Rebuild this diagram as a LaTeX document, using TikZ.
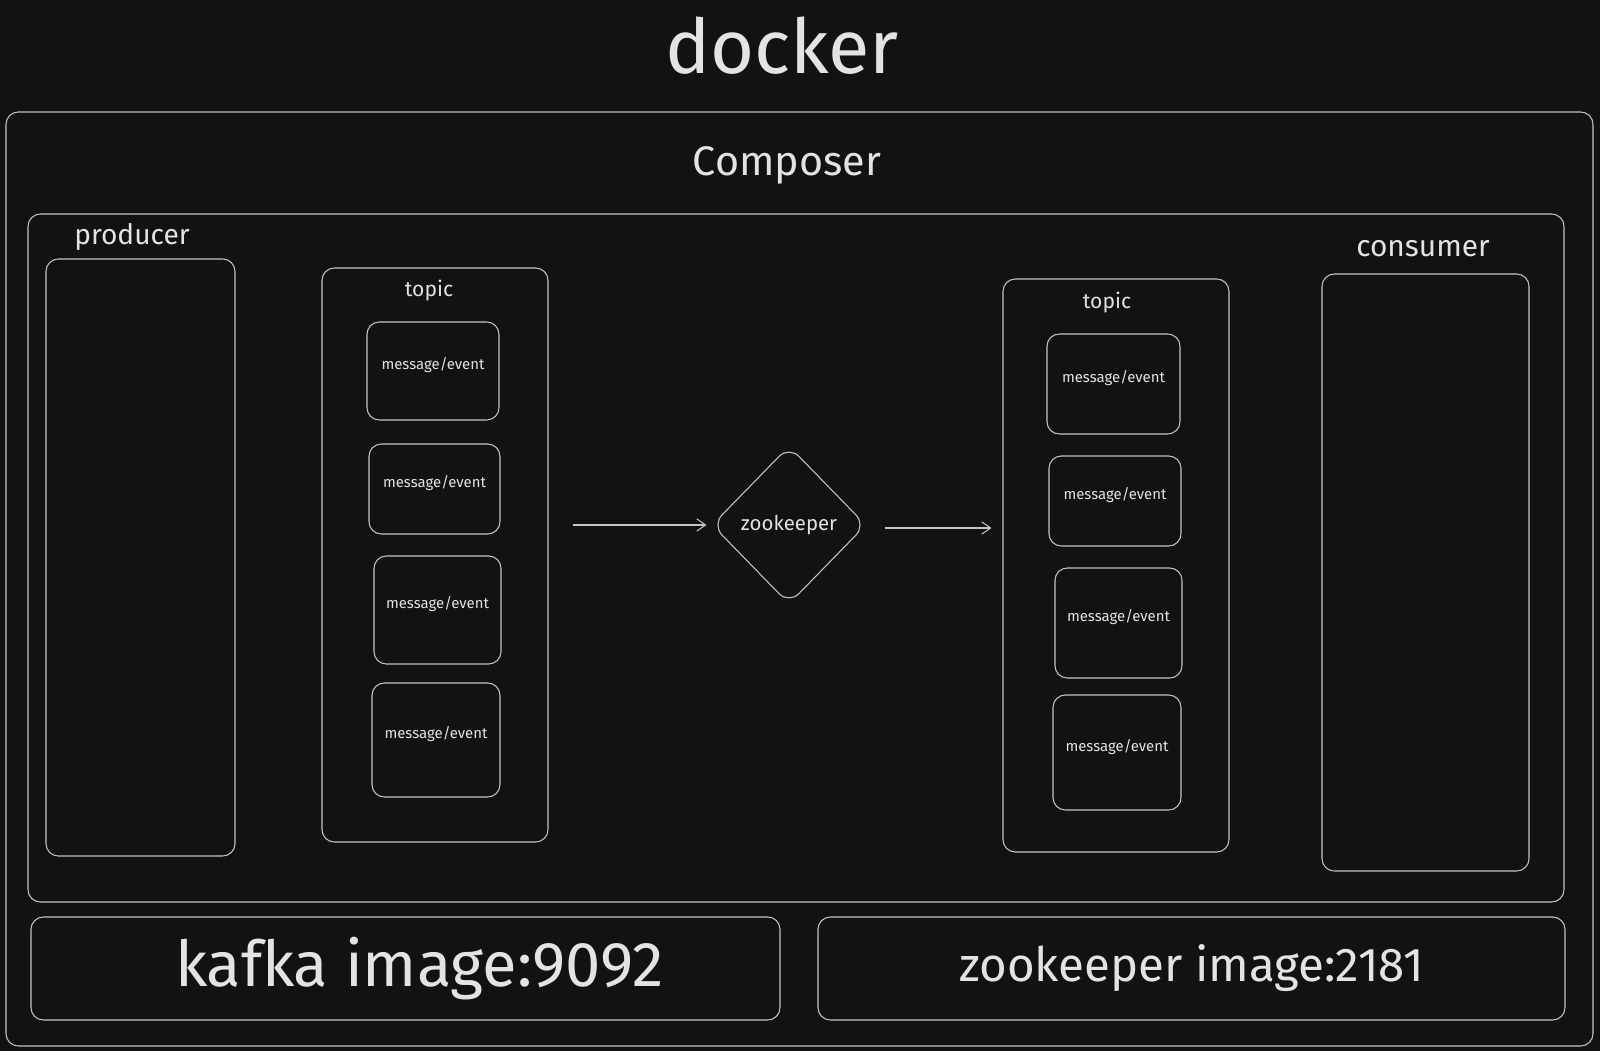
\documentclass[tikz,border=0pt]{standalone}
\usepackage{fontspec}
\setmainfont{Fira Sans}
\usetikzlibrary{arrows.meta, shapes.geometric, positioning}
\definecolor{bgdark}{HTML}{121212}
\definecolor{linegray}{HTML}{C4C4C4}
\definecolor{inkgray}{HTML}{E3E3E3}
\tikzset{
    sketchbox/.style={draw=linegray, line width=0.6pt, rounded corners=7pt, inner sep=0pt},
    msgbox/.style={sketchbox, text=inkgray, text depth=0.3cm, font=\fontsize{8.5}{10}\selectfont},
    gate/.style={draw=linegray, line width=0.6pt, diamond, rounded corners=8pt, inner sep=0pt,
        minimum width=3.08cm, minimum height=3.16cm, text=inkgray, font=\fontsize{11.6}{13}\selectfont},
    flow/.style={draw=linegray, line width=0.6pt, -{Straight Barb[length=5pt,width=7pt]}},
    lbl/.style={text=inkgray, inner sep=0pt}
}
\begin{document}
\begin{tikzpicture}
    \fill[bgdark] (0,0) rectangle (32,-21.02);
    \useasboundingbox (0,0) rectangle (32,-21.02);
    % outer frames
    \node[sketchbox, minimum width=31.74cm, minimum height=18.68cm] (composer) at (15.99,-11.58) {};
    \node[sketchbox, minimum width=30.72cm, minimum height=13.76cm] (stage) at (15.92,-11.16) {};
    \node[lbl, font=\fontsize{43}{48}\selectfont] (docker) at (15.64,-0.92) {docker};
    \node[lbl, font=\fontsize{23.5}{28}\selectfont] (composerlbl) at (15.74,-3.30) {Composer};
    % producer side
    \node[sketchbox, minimum width=3.78cm, minimum height=11.94cm] (prod) at (2.81,-11.15) {};
    \node[lbl, font=\fontsize{16}{18}\selectfont] (prodlbl) at (2.64,-4.74) {producer};
    \node[sketchbox, minimum width=4.52cm, minimum height=11.48cm] (ltopic) at (8.70,-11.10) {};
    \node[lbl, font=\fontsize{12}{14}\selectfont] (ltopiclbl) at (8.58,-5.82) {topic};
    \node[msgbox, minimum width=2.64cm, minimum height=1.96cm] (lmsg1) at (8.66,-7.42) {message/event};
    \node[msgbox, minimum width=2.62cm, minimum height=1.80cm] (lmsg2) at (8.69,-9.78) {message/event};
    \node[msgbox, minimum width=2.54cm, minimum height=2.16cm] (lmsg3) at (8.75,-12.20) {message/event};
    \node[msgbox, minimum width=2.56cm, minimum height=2.28cm] (lmsg4) at (8.72,-14.80) {message/event};
    % broker
    \node[gate] (zk) at (15.78,-10.50) {zookeeper};
    % consumer side
    \node[sketchbox, minimum width=4.52cm, minimum height=11.46cm] (rtopic) at (22.32,-11.31) {};
    \node[lbl, font=\fontsize{12}{14}\selectfont] (rtopiclbl) at (22.14,-6.06) {topic};
    \node[msgbox, minimum width=2.66cm, minimum height=2.00cm] (rmsg1) at (22.27,-7.68) {message/event};
    \node[msgbox, minimum width=2.64cm, minimum height=1.80cm] (rmsg2) at (22.30,-10.02) {message/event};
    \node[msgbox, minimum width=2.54cm, minimum height=2.20cm] (rmsg3) at (22.37,-12.46) {message/event};
    \node[msgbox, minimum width=2.56cm, minimum height=2.30cm] (rmsg4) at (22.34,-15.05) {message/event};
    \node[sketchbox, minimum width=4.14cm, minimum height=11.94cm] (cons) at (28.51,-11.45) {};
    \node[lbl, font=\fontsize{17}{20}\selectfont] (conslbl) at (28.46,-4.98) {consumer};
    % flow
    \draw[flow, shorten <=0.48cm, shorten >=0.1cm] (ltopic.east |- zk.west) -- (zk.west);
    \draw[flow, shorten <=0.36cm, shorten >=0.22cm] ([yshift=-0.06cm]zk.east) -- ([yshift=-0.06cm]zk.east -| rtopic.west);
    % images
    \node[sketchbox, text=inkgray, font=\fontsize{36}{40}\selectfont, minimum width=14.98cm, minimum height=2.06cm] (kafka) at (8.11,-19.37) {\hspace*{0.56cm}kafka image:9092};
    \node[sketchbox, text=inkgray, font=\fontsize{27}{32}\selectfont, minimum width=14.94cm, minimum height=2.06cm] (zkimg) at (23.83,-19.37) {zookeeper image:2181};
\end{tikzpicture}
\end{document}
